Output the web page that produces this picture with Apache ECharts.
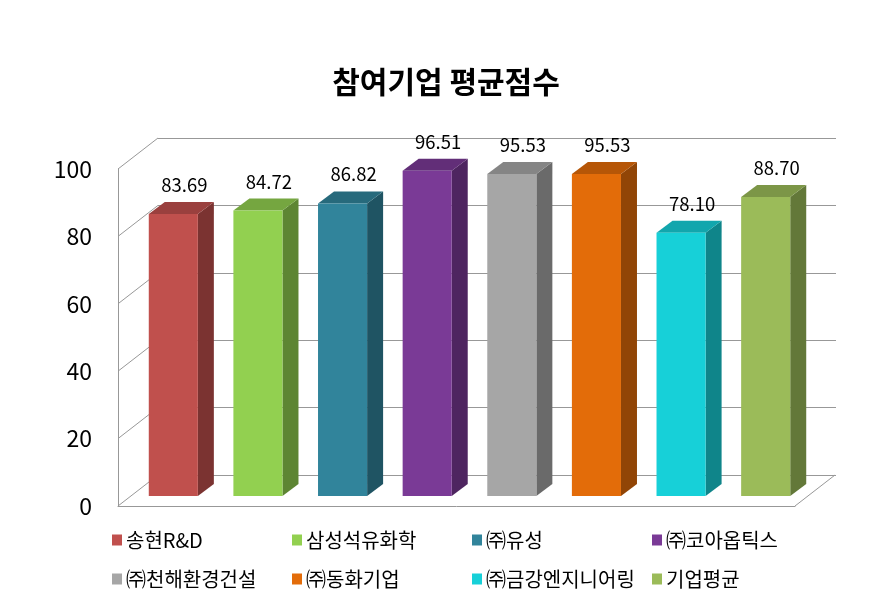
<!DOCTYPE html>
<html>
<head>
<meta charset="utf-8">
<script src="https://cdn.jsdelivr.net/npm/echarts@6/dist/echarts.min.js"></script>
<style>html,body{margin:0;padding:0;background:#fff;}#c{width:871px;height:609px;}</style>
</head>
<body>
<div id="c"></div>
<script>
// ---- data ----
const categories = ['송현R&D', '삼성석유화학', '㈜유성', '㈜코아옵틱스', '㈜천해환경건설', '㈜동화기업', '㈜금강엔지니어링', '기업평균'];
const scores = [83.69, 84.72, 86.82, 96.51, 95.53, 95.53, 78.10, 88.70];
const yTicks = [0, 20, 40, 60, 80, 100];
const titleText = '참여기업 평균점수';

// ---- style ----
const colors = ['#C0504D', '#92D050', '#31849B', '#7A3A96', '#A6A6A6', '#E36C09', '#17D0D8', '#9BBB59'];
const FONT = '"Noto Sans CJK KR", "Noto Sans", sans-serif';
const WALL = [40, -31];     // depth of the floor / walls in px
const BAR_DEPTH = [16, -12];
const BAR_RATIO = 0.58;
const LINE = '#989898';

function shade(hex, f) {
  const n = parseInt(hex.slice(1), 16);
  const r = Math.round(((n >> 16) & 255) * f), g = Math.round(((n >> 8) & 255) * f), b = Math.round((n & 255) * f);
  return 'rgb(' + r + ',' + g + ',' + b + ')';
}

function barRenderer(color) {
  return function (params, api) {
    const c = api.value(0), v = api.value(1);
    const p0 = api.coord([c, 0]), p1 = api.coord([c, v]);
    const bw = api.size([1, 0])[0] * BAR_RATIO;
    const l = p1[0] - bw / 2, r = p1[0] + bw / 2, t = p1[1], b = p0[1];
    const dx = BAR_DEPTH[0], dy = BAR_DEPTH[1];
    return {
      type: 'group',
      children: [
        { type: 'polygon', shape: { points: [[r, t], [r + dx, t + dy], [r + dx, b + dy], [r, b]] }, style: { fill: shade(color, 0.64) } },
        { type: 'polygon', shape: { points: [[l, t], [l + dx, t + dy], [r + dx, t + dy], [r, t]] }, style: { fill: shade(color, 0.8) } },
        { type: 'rect', shape: { x: l, y: t, width: bw, height: b - t }, style: { fill: color } },
        { type: 'text', x: p1[0] + 11, y: t - 29, style: { text: v.toFixed(2), fill: '#000', font: '18.5px ' + FONT, align: 'center', verticalAlign: 'middle' } }
      ]
    };
  };
}

const legendCols = [112, 292, 472, 652];
const legendRows = [530, 569];
const legends = categories.map((name, i) => ({
  data: [name],
  left: legendCols[i % 4],
  top: legendRows[Math.floor(i / 4)],
  icon: 'rect',
  itemWidth: 10,
  itemHeight: 11,
  itemGap: 5,
  padding: 0,
  selectedMode: false,
  textStyle: { fontSize: 20, color: '#000', fontFamily: FONT, padding: [0, 0, 0, -1] }
}));

const wallData = yTicks.map(v => [0, v]).concat([[1, 0]]);

const series = [
  {
    type: 'custom',
    xAxisIndex: 1, yAxisIndex: 1,
    data: wallData,
    silent: true,
    clip: false,
    z: 1,
    renderItem: function (params, api) {
      const p = api.coord([api.value(0), api.value(1)]);
      return { type: 'line', shape: { x1: p[0], y1: p[1], x2: p[0] + WALL[0], y2: p[1] + WALL[1] }, style: { stroke: LINE, lineWidth: 1 } };
    }
  }
].concat(categories.map((name, i) => ({
  name: name,
  type: 'custom',
  xAxisIndex: 2, yAxisIndex: 2,
  data: [[i, scores[i]]],
  itemStyle: { color: colors[i] },
  clip: false,
  z: 5,
  renderItem: barRenderer(colors[i])
})));

const option = {
  animation: false,
  backgroundColor: '#fff',
  title: {
    text: titleText,
    left: 446,
    textAlign: 'center',
    top: 67,
    padding: 0,
    textStyle: { fontSize: 30, fontWeight: 'bold', color: '#000', fontFamily: FONT }
  },
  legend: legends,
  grid: [
    { left: 158, right: 35, top: 138, bottom: 134 },   // back wall
    { left: 118, right: 76, top: 169, bottom: 103 },   // front edge
    { left: 131, right: 63, top: 159, bottom: 113 }    // bar plane
  ],
  xAxis: [
    { gridIndex: 0, type: 'value', min: 0, max: 1, show: false },
    { gridIndex: 1, type: 'value', min: 0, max: 1, axisLine: { show: true, lineStyle: { color: LINE } }, axisTick: { show: false }, axisLabel: { show: false }, splitLine: { show: false } },
    { gridIndex: 2, type: 'category', data: categories, show: false }
  ],
  yAxis: [
    { gridIndex: 0, type: 'value', min: 0, max: 100, interval: 20, axisLine: { show: false }, axisTick: { show: false }, axisLabel: { show: false }, splitLine: { show: true, lineStyle: { color: LINE, width: 1 } } },
    { gridIndex: 1, type: 'value', min: 0, max: 100, interval: 20, axisLine: { show: true, lineStyle: { color: LINE } }, axisTick: { show: false }, splitLine: { show: false },
      axisLabel: { margin: 26, fontSize: 23, color: '#000', fontFamily: FONT, padding: [12, 0, 0, 0] } },
    { gridIndex: 2, type: 'value', min: 0, max: 100, show: false }
  ],
  series: series
};

const chart = echarts.init(document.getElementById('c'), null, { renderer: 'canvas' });
chart.setOption(option);
</script>
</body>
</html>
